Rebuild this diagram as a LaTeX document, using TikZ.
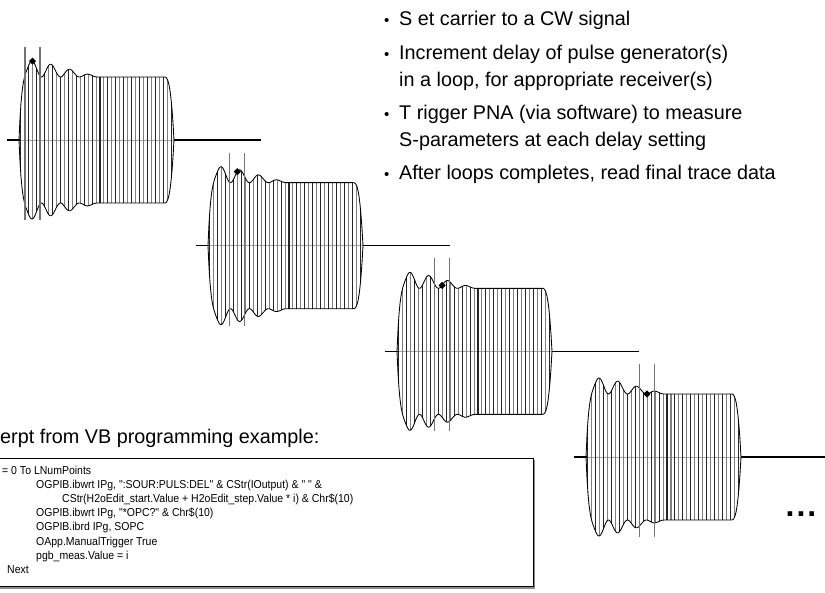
\documentclass[tikz,border=0pt]{standalone}
\usepackage{fontspec}
\setmainfont{Liberation Sans}
\newfontfamily\condfont[FakeStretch=0.913]{Liberation Sans}
\newcommand\bulfont{\fontsize{19.8}{23}\selectfont}
\newcommand\codefont{\condfont\fontsize{11.5}{13}\selectfont}
\begin{document}
\begin{tikzpicture}[x=1pt,y=-1pt,
  declare function={
    cub(\a)=\a*\a*\a;
    rr(\a)=1-cub(1-min(\a/8,1));
    ff(\a)=1-cub(1-min(max(155-\a,0)/10,1));
    aa(\a)=16*max(0,1-max(\a-20,0)/60);
    env(\a)=rr(\a)*ff(\a)*(63+aa(\a)*(1+cos(18.947*(\a-13)))/2);
  },
  carrier/.style={line width=1.05pt},
  envline/.style={line width=0.85pt, black},
  baseln/.style={line width=1.5pt, black},
  midln/.style={line width=0.4pt, black!35},
  gate/.style={line width=1.1pt, black!55},
  btxt/.style={anchor=base west, inner sep=0pt, font=\bulfont},
  bdot/.style={anchor=base, inner sep=0pt, font=\fontsize{15}{15}\selectfont},
  ctxt/.style={anchor=base west, inner sep=0pt, font=\codefont},
]
\useasboundingbox (0,0) rectangle (825,592);

% pulses
\foreach \k in {0,1,2,3} {
  \pgfmathsetmacro\xo{19+189*\k}
  \pgfmathsetmacro\yc{140+105.67*\k}
  \pgfmathsetmacro\tm{13.5+15.8*\k}
  \pgfmathsetmacro\emv{env(\tm)}
  \draw[midln] (\xo,\yc) -- (\xo+155,\yc);
  \foreach \i in {0,...,38} {
    \pgfmathsetmacro\ti{1.6+3.97*\i}
    \pgfmathsetmacro\ev{env(\ti)}
    \pgfmathtruncatemacro\shade{mod(\i,2)==0 ? 85 : 50}
    \draw[carrier, draw=black!\shade] (\xo+\ti,\yc-\ev) -- (\xo+\ti,\yc+\ev);
  }
  \draw[baseln] (\xo-12,\yc) -- (\xo+0.5,\yc);
  \draw[baseln] (\xo+154.5,\yc) -- (\xo+242,\yc);
  \draw[envline] plot[domain=0:155, samples=156, variable=\vv] ({\xo+\vv},{\yc-env(\vv)});
  \draw[envline] plot[domain=0:155, samples=156, variable=\vv] ({\xo+\vv},{\yc+env(\vv)});
  \draw[gate] (\xo+\tm-7.5,\yc-93) -- (\xo+\tm-7.5,\yc+80);
  \draw[gate] (\xo+\tm+7.5,\yc-93) -- (\xo+\tm+7.5,\yc+80);
  \fill[black] (\xo+\tm,\yc-\emv-3.6) -- ++(3.6,3.6) -- ++(-3.6,3.6) -- ++(-3.6,-3.6) -- cycle;
}

% bullet list
\node[bdot] (d1) at (386.7,25) {•};
\node[btxt] (t1) at (399,25) {S et carrier to a CW signal};
\node[bdot] (d2) at (386.7,59) {•};
\node[btxt] (t2) at (399,59) {Increment delay of pulse generator(s)};
\node[btxt] (t2b) at (399,86) {in a loop, for appropriate receiver(s)};
\node[bdot] (d3) at (386.7,119) {•};
\node[btxt] (t3) at (399,119) {T rigger PNA (via software) to measure};
\node[btxt] (t3b) at (399,146) {S-parameters at each delay setting};
\node[bdot] (d4) at (386.7,179) {•};
\node[btxt] (t4) at (399,179) {After loops completes, read final trace data};

% heading
\node[btxt] (head) at (0,443) {erpt from VB programming example:};

% code box
\draw[black!45, line width=1.6pt] (-2,587.8) -- (534.3,587.8) -- (534.3,459.5);
\draw[black, line width=0.9pt] (-2,458) rectangle (533,586.5);
\node[ctxt] (c1) at (2,474) {= 0 To LNumPoints};
\node[ctxt] (c2) at (36,488.2) {OGPIB.ibwrt IPg, ":SOUR:PULS:DEL" \& CStr(IOutput) \& " " \&};
\node[ctxt] (c3) at (62,502.4) {CStr(H2oEdit\_start.Value + H2oEdit\_step.Value * i) \& Chr\$(10)};
\node[ctxt] (c4) at (36,516.6) {OGPIB.ibwrt IPg, "*OPC?" \& Chr\$(10)};
\node[ctxt] (c5) at (36,530.8) {OGPIB.ibrd IPg, SOPC};
\node[ctxt] (c6) at (36,545) {OApp.ManualTrigger True};
\node[ctxt] (c7) at (36,559.2) {pgb\_meas.Value = i};
\node[ctxt] (c8) at (7,573.4) {Next};

% ellipsis
\node[anchor=base, inner sep=0pt, font=\fontsize{32}{32}\selectfont\bfseries] (dots) at (801,516.7) {.\kern2pt.\kern2pt.};
\end{tikzpicture}
\end{document}
